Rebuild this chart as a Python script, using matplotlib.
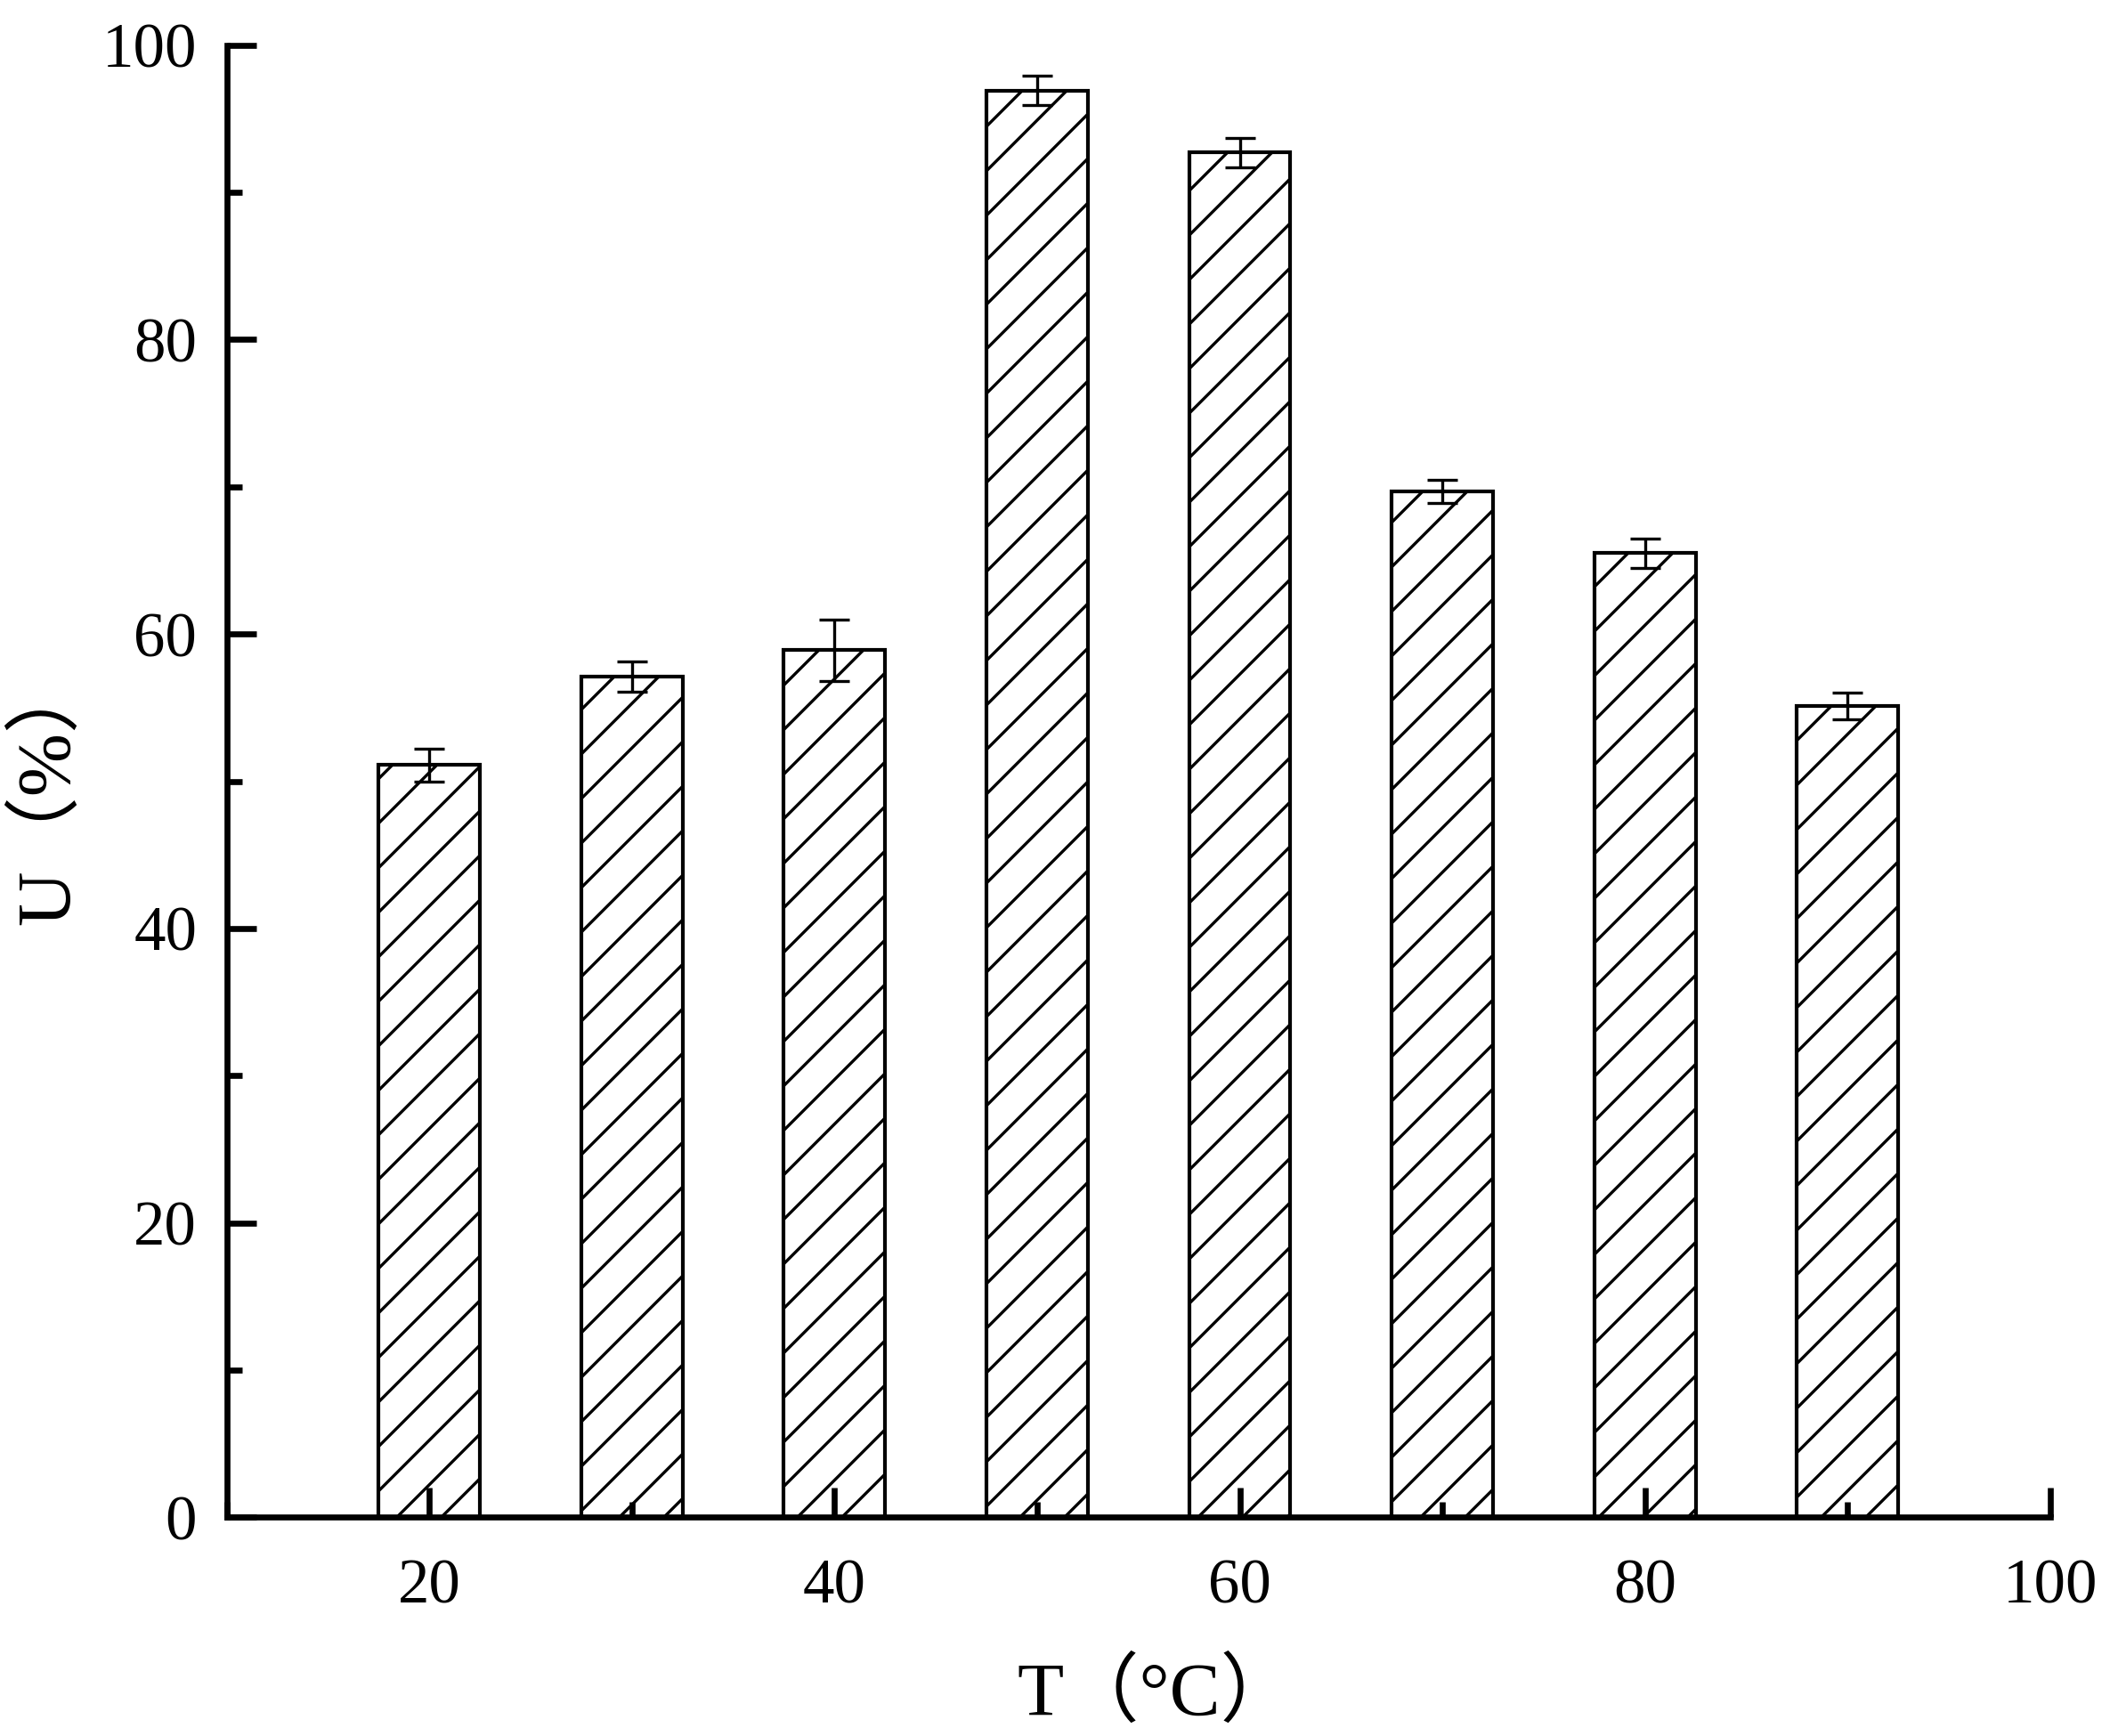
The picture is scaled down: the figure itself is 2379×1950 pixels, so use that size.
import matplotlib
matplotlib.use("Agg")
import matplotlib.pyplot as plt
from matplotlib.ticker import MultipleLocator

temps = [20, 30, 40, 50, 60, 70, 80, 90]
u_values = [51.1, 57.1, 58.9, 96.9, 92.7, 69.7, 65.5, 55.1]
u_errors = [1.1, 1.05, 2.1, 1.0, 1.0, 0.8, 1.0, 0.9]

plt.rcParams["font.family"] = ["Liberation Serif", "Noto Sans CJK SC"]
plt.rcParams["hatch.linewidth"] = 0.8

fig = plt.figure(figsize=(2379 / 300, 1950 / 300), dpi=300)
ax = fig.add_axes([0.107, 0.126, 0.861, 0.848])

ax.bar(temps, u_values, width=5, color="white", edgecolor="black",
       linewidth=1.0, hatch="//", zorder=1)
ax.errorbar(temps, u_values, yerr=u_errors, fmt="none", ecolor="black",
            elinewidth=0.8, capsize=4, capthick=0.8, zorder=4)
ax.set_axisbelow(False)

ax.set_xlim(10, 100)
ax.set_ylim(0, 100)
ax.xaxis.set_major_locator(MultipleLocator(20))
ax.xaxis.set_minor_locator(MultipleLocator(10))
ax.yaxis.set_major_locator(MultipleLocator(20))
ax.yaxis.set_minor_locator(MultipleLocator(10))

ax.spines["top"].set_visible(False)
ax.spines["right"].set_visible(False)
for s in ["left", "bottom"]:
    ax.spines[s].set_linewidth(1.6)

ax.tick_params(which="major", direction="in", length=8, width=1.6,
               labelsize=17)
ax.tick_params(which="minor", direction="in", length=4, width=1.6)
ax.tick_params(axis="y", which="major", pad=8)
ax.tick_params(axis="x", which="major", pad=11)

ax.set_xlabel("T（°C）", fontsize=20.5)
ax.set_ylabel("U（%）", fontsize=20.5)
ax.xaxis.set_label_coords(0.51, -0.096)
ax.yaxis.set_label_coords(-0.078, 0.494)

plt.savefig("out.png", dpi=300)
plt.close()
